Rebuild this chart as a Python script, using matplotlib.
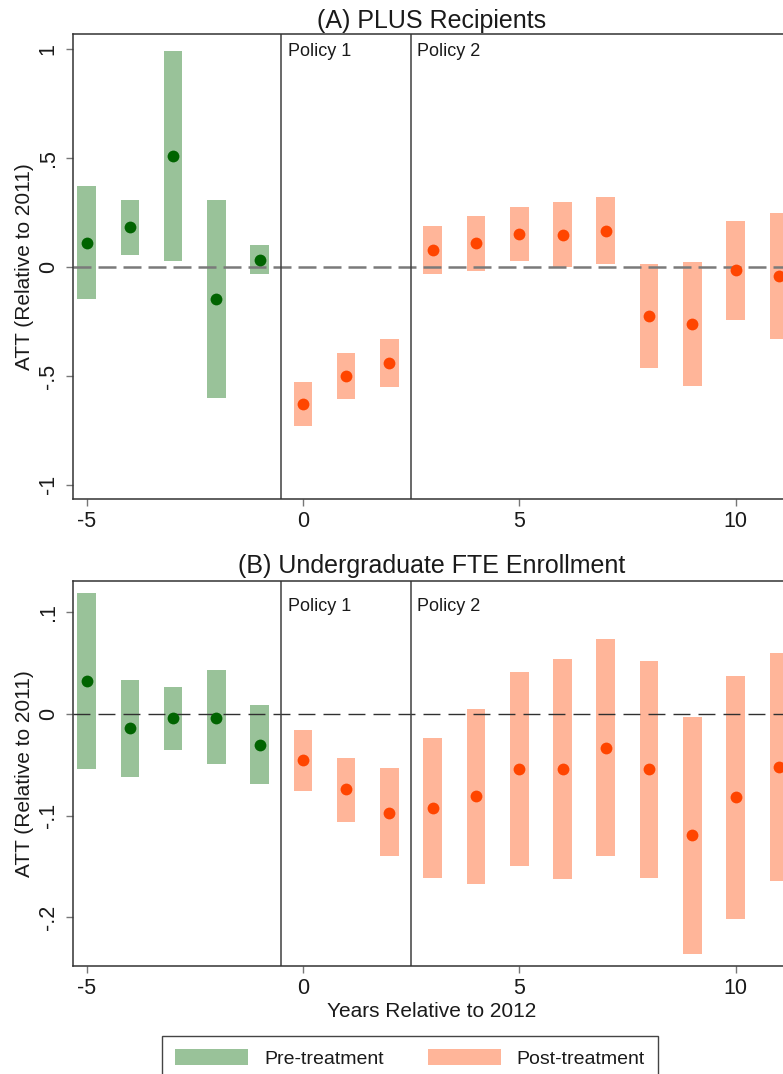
import matplotlib
matplotlib.use("Agg")
import matplotlib.pyplot as plt
import numpy as np

plt.rcParams['font.family'] = ['Liberation Sans', 'DejaVu Sans']

# ---------------- data ----------------
years = [-5, -4, -3, -2, -1, 0, 1, 2, 3, 4, 5, 6, 7, 8, 9, 10, 11]

# (A) PLUS Recipients
a_est = [0.11, 0.182, 0.51, -0.147, 0.034, -0.629, -0.502, -0.441, 0.08, 0.109,
         0.150, 0.147, 0.167, -0.223, -0.26, -0.015, -0.043]
a_lo = [-0.148, 0.057, 0.028, -0.60, -0.034, -0.728, -0.607, -0.551, -0.034, -0.018,
        0.028, 0.0, 0.012, -0.465, -0.545, -0.242, -0.332]
a_hi = [0.37, 0.31, 0.99, 0.306, 0.10, -0.529, -0.395, -0.332, 0.19, 0.236,
        0.274, 0.297, 0.32, 0.015, 0.023, 0.21, 0.247]

# (B) Undergraduate FTE Enrollment
b_est = [0.032, -0.014, -0.004, -0.004, -0.030, -0.0455, -0.074, -0.097, -0.092, -0.081,
         -0.054, -0.054, -0.033, -0.054, -0.119, -0.082, -0.052]
b_lo = [-0.054, -0.062, -0.035, -0.049, -0.069, -0.076, -0.106, -0.140, -0.161, -0.167,
        -0.149, -0.162, -0.140, -0.161, -0.236, -0.202, -0.164]
b_hi = [0.119, 0.033, 0.027, 0.043, 0.009, -0.016, -0.043, -0.053, -0.024, 0.005,
        0.041, 0.054, 0.074, 0.052, -0.003, 0.037, 0.060]

panel_titles = ['(A) PLUS Recipients', '(B) Undergraduate FTE Enrollment']
a_yticks = [-1, -0.5, 0, 0.5, 1]
a_yticklabels = ['-1', '-.5', '0', '.5', '1']
b_yticks = [-0.2, -0.1, 0, 0.1]
b_yticklabels = ['-.2', '-.1', '0', '.1']
xticks = [-5, 0, 5, 10]
xticklabels = ['-5', '0', '5', '10']
policy_lines = [-0.5, 2.5]
policy_labels = ['Policy 1', 'Policy 2']
legend_labels = ['Pre-treatment', 'Post-treatment']
ylabel = 'ATT (Relative to 2011)'
xlabel = 'Years Relative to 2012'

# ---------------- style ----------------
GREEN_BAR = '#99c299'
GREEN_PT = '#006400'
ORANGE_BAR = '#ffb599'
ORANGE_PT = '#ff4500'
TXT = '#1a1a1a'

W, H = 783, 1074
fig = plt.figure(figsize=(W / 100, H / 100), dpi=100)
axA = fig.add_axes([72.7 / W, 575 / H, 718.3 / W, 465 / H])
axB = fig.add_axes([72.7 / W, 108 / H, 718.3 / W, 385 / H])


def draw(ax, est, lo, hi, ylim, yt, ytl, title, tpad, zero_style, pol_off):
    yrs = np.array(years)
    est = np.array(est); lo = np.array(lo); hi = np.array(hi)
    pre = yrs < 0
    post = ~pre
    b1 = ax.bar(yrs[pre], hi[pre] - lo[pre], bottom=lo[pre], width=0.43,
                color=GREEN_BAR, linewidth=0, zorder=1)
    b2 = ax.bar(yrs[post], hi[post] - lo[post], bottom=lo[post], width=0.43,
                color=ORANGE_BAR, linewidth=0, zorder=1)
    zl = ax.axhline(0, color=zero_style[0], lw=zero_style[1], zorder=2)
    zl.set_dashes(zero_style[2])
    for xv in policy_lines:
        ax.axvline(xv, color='#404040', lw=1.1, zorder=2)
    ax.plot(yrs[pre], est[pre], 'o', color=GREEN_PT, ms=8.5, mew=0, zorder=3)
    ax.plot(yrs[post], est[post], 'o', color=ORANGE_PT, ms=8.5, mew=0, zorder=3)
    ax.set_xlim(-5.32, 11.28)
    ax.set_ylim(*ylim)
    ax.set_xticks(xticks, xticklabels)
    ax.set_yticks(yt, ytl)
    ax.tick_params(direction='out', length=5, width=1, color='#777777', pad=3.5,
                   labelsize=15.5, labelcolor=TXT)
    ax.tick_params(axis='y', labelrotation=90, pad=5)
    plt.setp(ax.get_yticklabels(), va='center')
    for s in ax.spines.values():
        s.set_color('#333333')
        s.set_linewidth(1.1)
    ax.set_title(title, fontsize=18, pad=tpad, color=TXT)
    ax.set_ylabel(ylabel, fontsize=15, color=TXT)
    ax.yaxis.set_label_coords(-0.0539, 0.5)
    for xv, lab in zip(policy_lines, policy_labels):
        ax.annotate(lab, xy=(xv, 1), xycoords=('data', 'axes fraction'),
                    xytext=(4.5, -pol_off), textcoords='offset points',
                    ha='left', va='top', fontsize=13, color=TXT)
    return b1, b2


hA = draw(axA, a_est, a_lo, a_hi, (-1.065, 1.07), a_yticks, a_yticklabels,
          panel_titles[0], 4.3, ('#7a7a7a', 1.8, (7.2, 2.8)), 6.5)
hB = draw(axB, b_est, b_lo, b_hi, (-0.2478, 0.1308), b_yticks, b_yticklabels,
          panel_titles[1], 6.0, ('#303030', 1.0, (12.2, 5.8)), 12.2)

axB.set_xlabel(xlabel, fontsize=15, color=TXT)
axB.xaxis.set_label_coords(0.5, -0.094)

leg = fig.legend(handles=list(hA), labels=legend_labels, loc='upper center',
                 bbox_to_anchor=(410 / W, 1 - 1036 / H), ncol=2, fontsize=14,
                 frameon=True, fancybox=False, edgecolor='#444444', framealpha=1,
                 handlelength=3.76, handleheight=0.93, handletextpad=0.82,
                 columnspacing=2.27, borderpad=0.65, borderaxespad=0)
for t in leg.get_texts():
    t.set_color(TXT)

fig.savefig('out.png', dpi=100)
